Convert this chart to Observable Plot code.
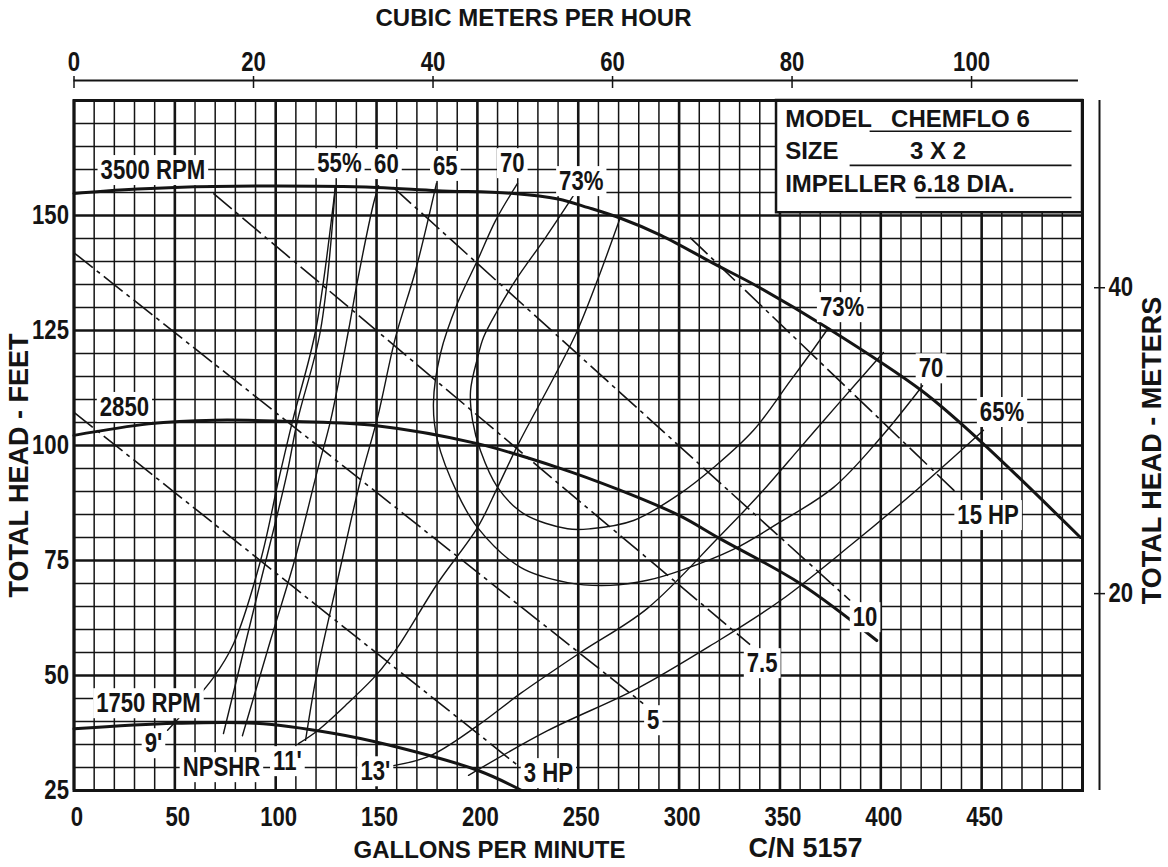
<!DOCTYPE html>
<html>
<head>
<meta charset="utf-8">
<script src="https://cdn.jsdelivr.net/npm/d3@7"></script>
<script src="https://cdn.jsdelivr.net/npm/@observablehq/plot@0.6"></script>
<style>
  html, body { margin: 0; padding: 0; background: #fff; }
  #chart svg { display: block; }
</style>
</head>
<body>
<div id="chart"></div>
<script>
// ---------- axis ticks ----------
const gpmTicks = [0, 50, 100, 150, 200, 250, 300, 350, 400, 450];
const feetTicks = [25, 50, 75, 100, 125, 150];
const m3hTicks = [0, 20, 40, 60, 80, 100];
const gpmPerM3h = 4.45;              // as drawn on the sheet
const meterTicks = [20, 40];
const meterTickHeadFt = [67.8, 134.3]; // where the meter ticks sit on the feet scale
const topAxisEndQ = 498;

// ---------- head curves [GPM, feet] ----------
const head3500 = [[0,154.8],[25,155.6],[50,156.1],[100,156.4],[150,156.1],[180,155.4],[218,154.8],[240,153.6],[255,151.7],[271,149.4],[291,145.7],[317,139.6],[340,134.3],[373,125.7],[420,112.0],[448,101.5],[499,80.0]];
const head2850 = [[0,102.2],[37,104.7],[70,105.5],[110,105.2],[150,104.3],[200,100.4],[240,95.2],[270,90.4],[300,84.8],[320,79.8],[360,70.0],[398,57.6]];
const head1750 = [[0,38.4],[50,39.6],[90,39.6],[129,37.4],[155,35.0],[200,29.4],[222,25.0]];

// ---------- efficiency / NPSHR lines [GPM, feet] ----------
const eff55a = [[46.4,38.1],[69.2,49.6],[79.1,56.9],[92.5,75.0],[101.4,92.4],[108.4,105.4],[119.8,125.0],[128.6,152.6],[129.6,156.5]];
const eff55b = [[74.1,37.4],[90.2,66.3],[105.4,93.5],[110.8,105.4],[122.2,125.0],[129.6,156.5]];
const eff60 = [[83.5,36.9],[97.4,57.6],[109.8,75.7],[120.7,94.6],[127.2,105.4],[136.1,125.0],[140.6,135.9],[148.5,152.6],[151.0,156.5]];
const eff65L = [[114.8,35.9],[120.7,51.1],[130.6,70.6],[142.0,92.4],[150.5,106.1],[159.4,123.5],[169.3,138.0],[179.7,157.0]];
const eff70 = [[219.9,157.0],[209.0,148.9],[200.0,140.2],[190.1,130.9],[181.7,120.0],[178.2,109.1],[180.2,101.1],[190.1,89.6],[200.0,82.2],[221.4,73.5],[244.7,70.2],[266.0,69.6],[284.3,70.7],[300.7,72.8],[326.9,77.4],[348.8,83.0],[376.6,90.9],[399.9,101.7],[420.7,113.0]];
const eff73 = [[247.6,154.3],[233.8,145.2],[218.9,135.9],[209.9,129.3],[203.0,123.5],[200.1,119.1],[196.6,111.9],[197.6,105.4],[201.5,98.9],[210.0,90.9],[222.9,85.2],[244.7,81.9],[256.1,81.9],[277.4,83.7],[300.7,89.6],[317.1,95.2],[336.9,103.3],[355.2,114.1],[365.1,120.0],[374.1,125.6]];
const npsh11 = [[111.3,35.2],[120.7,38.0],[135.6,43.9],[150.5,50.4],[160.4,56.1],[180.2,70.0],[200.1,82.2],[210.0,90.9],[220.4,100.4],[239.7,116.3],[249.6,125.0],[259.5,135.9],[270.9,149.6]];
const npsh13 = [[158.4,30.4],[176.8,32.6],[200.1,39.1],[221.4,46.1],[251.1,55.0],[284.3,64.6],[319.5,80.0],[340.4,89.6],[360.2,99.6],[380.0,109.6],[401.3,120.2]];
const eff65R = [[195.6,28.3],[234.8,38.0],[279.4,47.2],[317.1,56.9],[350.3,66.3],[385.0,78.3],[418.2,90.5],[450.9,103.3]];

// ---------- horsepower lines ----------
const hpStartQ = [0, 0, 69.1, 158.3, 305.5];
const hpStartH = [107.2, 141.9, 154.8, 156.1, 145.2];
const hpEndQ = [221.3, 282.2, 335.2, 384.8, 437.8];
const hpEndH = [30.0, 43.9, 56.7, 66.3, 89.6];

// ---------- curve labels ----------
const labelText = ["3500 RPM","55%","60","65","70","73%","2850","1750 RPM","9'","NPSHR","11'","13'","3 HP","5","7.5","10","15 HP","65%","70","73%"];
const labelQ = [39.1,131.6,154.9,184.1,217.3,251.5,25.0,36.9,39.4,73.1,105.8,149.4,235.2,287.2,341.2,392.2,453.2,460.1,424.9,380.8];
const labelH = [159.8,161.3,161.1,160.7,161.3,157.4,108.3,43.9,35.2,30.0,31.3,29.1,28.7,40.2,52.6,62.6,84.8,107.2,116.7,130.0];

// ---------- info box ----------
const infoBoxQ = [348.3, 500];
const infoBoxH = [150.6, 175];
const infoText = ["MODEL", "CHEMFLO 6", "SIZE", "3 X 2", "IMPELLER 6.18 DIA."];
const infoQ = [352.6, 405.1, 352.6, 414.5, 352.6];
const infoH = [170.9, 170.9, 163.9, 163.9, 156.7];
const underlineQ1 = [394.7, 384.8, 417.5];
const underlineQ2 = [494.8, 494.8, 494.8];
const underlineH = [168.3, 160.9, 153.9];

// ---------- styling ----------
const FW = '"Liberation Sans",Arial,Helvetica,sans-serif';
const INK = "#141414";
const NARROW = 0.82;   // horizontal squeeze for the condensed lettering

const minorX = d3.range(0, 501, 10).filter(v => v % 50 !== 0);
const majorX = d3.range(0, 501, 50);
const minorY = d3.range(25, 176, 5).filter(v => v % 25 !== 0);
const majorY = d3.range(25, 176, 25);

const thinLines = [eff55a, eff55b, eff60, eff65L, eff70, eff73, npsh11, npsh13, eff65R];
const heavyLines = [head3500, head2850, head1750];
const idx = n => d3.range(n);
const T = {fontFamily: FW, fontWeight: "bold", fill: INK};

const chart = Plot.plot({
  width: 1168,
  height: 867,
  marginLeft: 73.5,
  marginRight: 86,
  marginTop: 100,
  marginBottom: 77,
  x: {domain: [0, 500], label: null},
  y: {domain: [25, 175], label: null},
  style: {fontFamily: FW, fontWeight: "bold", color: INK, background: "white"},
  marks: [
    // grid
    Plot.ruleX(minorX, {stroke: INK, strokeWidth: 1.5}),
    Plot.ruleY(minorY, {stroke: INK, strokeWidth: 1.5}),
    Plot.ruleX(majorX, {stroke: INK, strokeWidth: 2.6}),
    Plot.ruleY(majorY, {stroke: INK, strokeWidth: 2.6}),
    // info box
    Plot.rect([0], {x1: () => infoBoxQ[0], x2: () => infoBoxQ[1], y1: () => infoBoxH[0], y2: () => infoBoxH[1], fill: "white", stroke: INK, strokeWidth: 2.5}),
    Plot.ruleY(idx(underlineH.length), {y: i => underlineH[i], x1: i => underlineQ1[i], x2: i => underlineQ2[i], stroke: INK, strokeWidth: 1.6}),
    Plot.text(idx(infoText.length), {x: i => infoQ[i], y: i => infoH[i], text: i => infoText[i], textAnchor: "start", fontSize: 24, ...T}),
    Plot.frame({stroke: INK, strokeWidth: 3}),
    // horsepower lines
    Plot.link(idx(hpStartQ.length), {x1: i => hpStartQ[i], y1: i => hpStartH[i], x2: i => hpEndQ[i], y2: i => hpEndH[i], stroke: INK, strokeWidth: 1.6, strokeDasharray: "24,5,4,5"}),
    // efficiency & NPSHR lines
    ...thinLines.map(L => Plot.line(L, {x: d => d[0], y: d => d[1], curve: "catmull-rom", stroke: INK, strokeWidth: 1.4})),
    // head curves
    ...heavyLines.map(L => Plot.line(L, {x: d => d[0], y: d => d[1], curve: "catmull-rom", stroke: INK, strokeWidth: 3})),
    // axes
    Plot.axisY(feetTicks, {anchor: "left", tickSize: 0, tickPadding: 5, fontSize: 27, ...T}),
    Plot.axisX(gpmTicks, {anchor: "bottom", tickSize: 0, tickPadding: 16, dx: 3, fontSize: 27, ...T}),
    Plot.axisX(m3hTicks.map(m => m * gpmPerM3h), {anchor: "top", tickSize: 12, tickPadding: 5, dy: -13, tickFormat: d => String(Math.round(d / gpmPerM3h)), fontSize: 27, ...T, stroke: INK, strokeWidth: 1.5}),
    Plot.ruleY([175], {x1: () => 0, x2: () => topAxisEndQ, dy: -20, stroke: INK, strokeWidth: 2}),
    Plot.axisY(meterTickHeadFt, {anchor: "right", tickSize: 11, dx: 11, tickPadding: 4, tickFormat: d => String(meterTicks[meterTickHeadFt.indexOf(d)]), fontSize: 27, ...T, stroke: INK, strokeWidth: 1.5}),
    Plot.ruleX([500], {dx: 17, stroke: INK, strokeWidth: 2}),
    // axis titles
    Plot.text(["CUBIC METERS PER HOUR"], {text: d => d, frameAnchor: "top-left", dx: 459.5, dy: -82, textAnchor: "middle", lineAnchor: "middle", fontSize: 24, ...T}),
    Plot.text(["GALLONS PER MINUTE"], {text: d => d, frameAnchor: "bottom-left", dx: 279.5, dy: 60, textAnchor: "start", lineAnchor: "middle", fontSize: 24, ...T}),
    Plot.text(["C/N 5157"], {text: d => d, frameAnchor: "bottom-left", dx: 674.5, dy: 58, textAnchor: "start", lineAnchor: "middle", fontSize: 27, ...T}),
    Plot.text(["TOTAL HEAD - FEET"], {text: d => d, frameAnchor: "left", dx: -54.5, dy: 20, rotate: -90, textAnchor: "middle", lineAnchor: "middle", fontSize: 27, ...T}),
    Plot.text(["TOTAL HEAD - METERS"], {text: d => d, frameAnchor: "right", dx: 70, dy: 5, rotate: -90, textAnchor: "middle", lineAnchor: "middle", fontSize: 27, ...T}),
    // curve labels (white boxes added after render)
    Plot.text(idx(labelText.length), {x: i => labelQ[i], y: i => labelH[i], text: i => labelText[i], fontSize: 27, ...T, ariaDescription: "boxed-label"})
  ]
});

document.getElementById("chart").append(chart);

// condensed lettering for tick labels and curve labels
const narrowTexts = chart.querySelectorAll('g[aria-label$="tick label"] text, g[aria-description="boxed-label"] text');
narrowTexts.forEach(t => {
  const L = t.getComputedTextLength();
  if (L > 0) {
    t.setAttribute("textLength", (L * NARROW).toFixed(2));
    t.setAttribute("lengthAdjust", "spacingAndGlyphs");
  }
});

// white label boxes behind the curve labels, sized from the rendered text
const NS = "http://www.w3.org/2000/svg";
chart.querySelectorAll('g[aria-description="boxed-label"] text').forEach(t => {
  const bb = t.getBBox();
  const r = document.createElementNS(NS, "rect");
  r.setAttribute("x", bb.x - 3);
  r.setAttribute("y", bb.y);
  r.setAttribute("width", bb.width + 6);
  r.setAttribute("height", bb.height);
  r.setAttribute("fill", "white");
  r.setAttribute("stroke", "none");
  const tr = t.getAttribute("transform");
  if (tr) r.setAttribute("transform", tr);
  t.parentNode.insertBefore(r, t);
});
</script>
</body>
</html>
